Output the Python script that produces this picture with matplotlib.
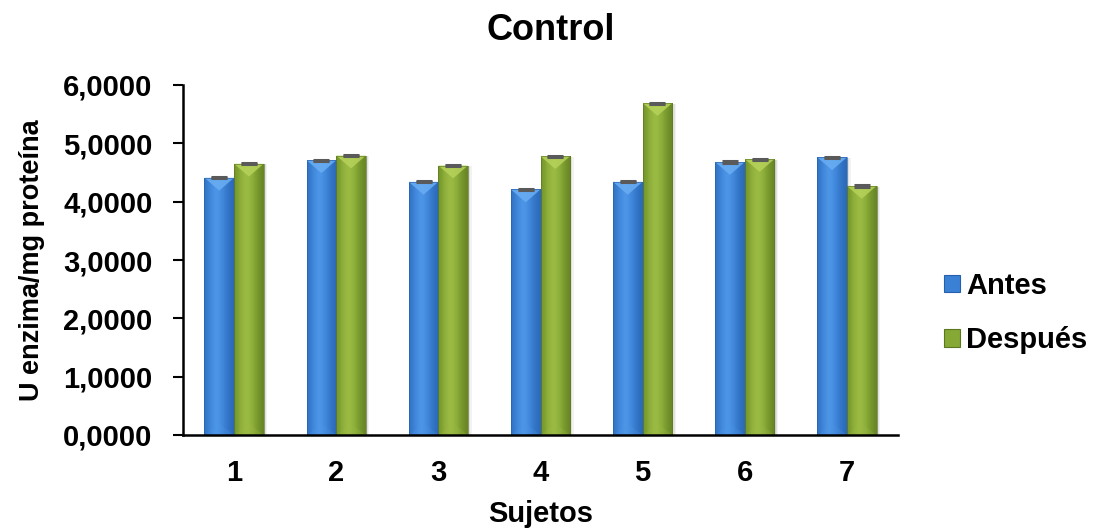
import numpy as np
import matplotlib
matplotlib.use("Agg")
import matplotlib.pyplot as plt
from matplotlib.patches import Rectangle, Polygon
from matplotlib.colors import to_rgb

plt.rcParams['font.family'] = ['Liberation Sans', 'DejaVu Sans']
plt.rcParams['font.weight'] = 'bold'

# Data
sujetos = ['1', '2', '3', '4', '5', '6', '7']
antes = [4.41, 4.71, 4.34, 4.21, 4.34, 4.68, 4.76]
despues = [4.65, 4.79, 4.62, 4.78, 5.69, 4.73, 4.27]
err_antes = [0.01, 0.01, 0.01, 0.01, 0.01, 0.01, 0.01]
err_despues = [0.01, 0.01, 0.01, 0.01, 0.01, 0.01, 0.01]
yticks = [0, 1, 2, 3, 4, 5, 6]
ytick_labels = ['0,0000', '1,0000', '2,0000', '3,0000', '4,0000', '5,0000', '6,0000']

blue = {'base': '#3a81d5', 'dark': '#2660ac', 'light': '#4d95e6', 'top': '#6aaef3'}
green = {'base': '#86a834', 'dark': '#5b7820', 'light': '#9aba44', 'top': '#b6d25a'}

FS = 21

fig = plt.figure(figsize=(10.99, 5.31), dpi=100)
ax = fig.add_axes([183 / 1099, 1 - 435 / 531, (898 - 183) / 1099, (435 - 85) / 531])

x = np.arange(len(sujetos))
w = 0.29


def shade(c_dark, c_mid, c_light, n=64):
    # horizontal profile: dark edges, lighter band left of centre
    t = np.linspace(0, 1, n)
    prof = np.exp(-((t - 0.42) / 0.34) ** 2)
    d, m, l = (np.array(to_rgb(c)) for c in (c_dark, c_mid, c_light))
    col = d + (m - d) * np.clip(prof * 1.5, 0, 1)[:, None] ** 0.5 + (l - m) * (prof[:, None] ** 3)
    return np.clip(col[None, :, :], 0, 1)


def fancy_bar(ax, xc, h, pal, err):
    x0, x1 = xc - w / 2, xc + w / 2
    # soft shadow to the right
    for k, a in zip([0.035, 0.022, 0.011], [0.05, 0.07, 0.09]):
        ax.add_patch(Rectangle((x0 + k, 0), w, h - 0.01, facecolor='black', alpha=a,
                               edgecolor='none', zorder=1))
    rect = Rectangle((x0, 0), w, h, facecolor=pal['base'], edgecolor='none', zorder=2)
    ax.add_patch(rect)
    img = ax.imshow(shade(pal['dark'], pal['base'], pal['light']), extent=(x0, x1, 0, h),
                    aspect='auto', zorder=2.1, interpolation='bicubic')
    img.set_clip_path(rect)
    # bevelled top
    dh = 0.22
    ax.add_patch(Polygon([(x0, h), (x1, h), (xc, h - dh)], closed=True,
                         facecolor=pal['top'], edgecolor='none', alpha=0.85, zorder=2.2))
    # faint bevel at the base
    ax.add_patch(Polygon([(x0, 0), (x1, 0), (xc, dh * 0.9)], closed=True,
                         facecolor=pal['light'], edgecolor='none', alpha=0.25, zorder=2.2))
    ax.add_patch(Rectangle((x0, 0), w, h, facecolor='none', edgecolor=pal['dark'],
                           linewidth=0.6, alpha=0.7, zorder=2.3))
    ax.errorbar(xc, h, yerr=err, fmt='none', ecolor='#5a5a5a', elinewidth=1.2,
                capsize=6, capthick=2.2, zorder=3)


for i in range(len(sujetos)):
    fancy_bar(ax, x[i] - w / 2, antes[i], blue, err_antes[i])
    fancy_bar(ax, x[i] + w / 2, despues[i], green, err_despues[i])

ax.set_xlim(-0.5, len(sujetos) - 0.5)
ax.set_ylim(0, 6)
ax.set_yticks(yticks)
ax.set_yticklabels(ytick_labels, fontsize=FS, fontweight='bold')
ax.set_xticks(x)
ax.set_xticklabels(sujetos, fontsize=FS, fontweight='bold')
ax.tick_params(axis='y', direction='out', length=7, width=1.5, pad=15)
ax.tick_params(axis='x', length=0, pad=17)
for s in ['top', 'right']:
    ax.spines[s].set_visible(False)
for s in ['left', 'bottom']:
    ax.spines[s].set_linewidth(1.8)
ax.spines['left'].set_bounds(0, 6)

ax.set_xlabel('Sujetos', fontsize=FS, fontweight='bold', labelpad=10)
ax.set_ylabel('U enzima/mg proteína', fontsize=19.5, fontweight='bold', labelpad=13)
fig.text(551 / 1099, 1 - 30 / 531, 'Control', ha='center', va='center',
         fontsize=26, fontweight='bold')

# legend
handles = [Rectangle((0, 0), 1, 1, facecolor=blue['base'], edgecolor=blue['dark'], linewidth=0.8),
           Rectangle((0, 0), 1, 1, facecolor=green['base'], edgecolor=green['dark'], linewidth=0.8)]
fig.legend(handles, ['Antes', 'Después'], loc='center left',
           bbox_to_anchor=(918 / 1099, 1 - 313 / 531), frameon=False,
           prop={'size': FS, 'weight': 'bold'}, handlelength=0.55, handleheight=0.55,
           handletextpad=0.2, labelspacing=0.9)

fig.savefig('out.png', dpi=100)
